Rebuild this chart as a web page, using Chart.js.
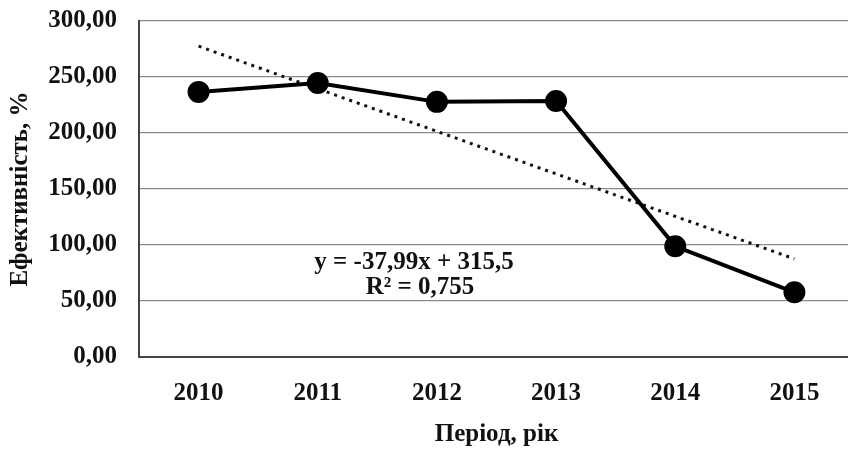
<!DOCTYPE html>
<html>
<head>
<meta charset="utf-8">
<script src="https://cdn.jsdelivr.net/npm/chart.js@4"></script>
<style>
  html, body { margin: 0; padding: 0; background: #fff; overflow: hidden; }
  #wrap { width: 848px; height: 450px; overflow: hidden; }
  #effChart { display: block; margin-top: -16px; }
</style>
</head>
<body>
<div id="wrap"><canvas id="effChart" width="854" height="466"></canvas></div>
<script>
// data
const years = ['2010', '2011', '2012', '2013', '2014', '2015'];
const efficiency = [236.7, 244.7, 227.8, 228.6, 98.8, 57.8];
const trend = [277.5, 239.5, 201.5, 163.5, 125.6, 87.6];
const yTicks = [0, 50, 100, 150, 200, 250, 300];

const font = "'Liberation Serif', 'Times New Roman', serif";

// equation of the trend line, placed as in the picture (canvas is shifted up 16px)
const equationLabel = {
  id: 'equationLabel',
  afterDatasetsDraw(chart) {
    const ctx = chart.ctx;
    ctx.save();
    ctx.font = 'bold 25px ' + font;
    ctx.fillStyle = '#111';
    ctx.textAlign = 'center';
    ctx.textBaseline = 'middle';
    ctx.fillText('y = -37,99x + 315,5', 414, 263 + 16);
    ctx.fillText('R² = 0,755', 420, 288 + 16);
    ctx.restore();
  }
};

new Chart(document.getElementById('effChart').getContext('2d'), {
  type: 'line',
  data: {
    labels: years,
    datasets: [
      {
        data: efficiency,
        borderColor: '#000',
        backgroundColor: '#000',
        borderWidth: 4,
        pointRadius: 9,
        pointHoverRadius: 9,
        tension: 0
      },
      {
        data: trend,
        borderColor: '#111',
        borderWidth: 3,
        borderDash: [3, 5],
        pointRadius: 0,
        tension: 0
      }
    ]
  },
  options: {
    responsive: false,
    animation: false,
    devicePixelRatio: 1,
    layout: { autoPadding: false, padding: { top: 4, right: 0, bottom: 0, left: 0 } },
    plugins: {
      legend: { display: false },
      tooltip: { enabled: false }
    },
    scales: {
      x: {
        offset: true,
        grid: { display: false, drawTicks: false },
        border: { color: '#444', width: 2 },
        ticks: { color: '#111', font: { family: font, size: 25, weight: 'bold' }, padding: 22 },
        title: {
          display: true,
          text: 'Період, рік',
          color: '#111',
          font: { family: font, size: 25, weight: 'bold' },
          padding: { top: 12, bottom: 0 }
        },
        afterFit(scale) { scale.height = 93; }
      },
      y: {
        min: 0,
        max: 300,
        afterBuildTicks(scale) { scale.ticks = yTicks.map(v => ({ value: v })); },
        grid: { color: '#8a8a8a', lineWidth: 1.2, drawTicks: false },
        border: { color: '#444', width: 2 },
        ticks: {
          color: '#111',
          font: { family: font, size: 25, weight: 'bold' },
          padding: 22,
          callback: v => v.toFixed(2).replace('.', ',')
        },
        title: {
          display: true,
          text: 'Ефективність, %',
          color: '#111',
          font: { family: font, size: 25, weight: 'bold' },
          padding: { top: 6, bottom: 0 }
        },
        afterFit(scale) { scale.width = 139; }
      }
    }
  },
  plugins: [equationLabel]
});
</script>
</body>
</html>
